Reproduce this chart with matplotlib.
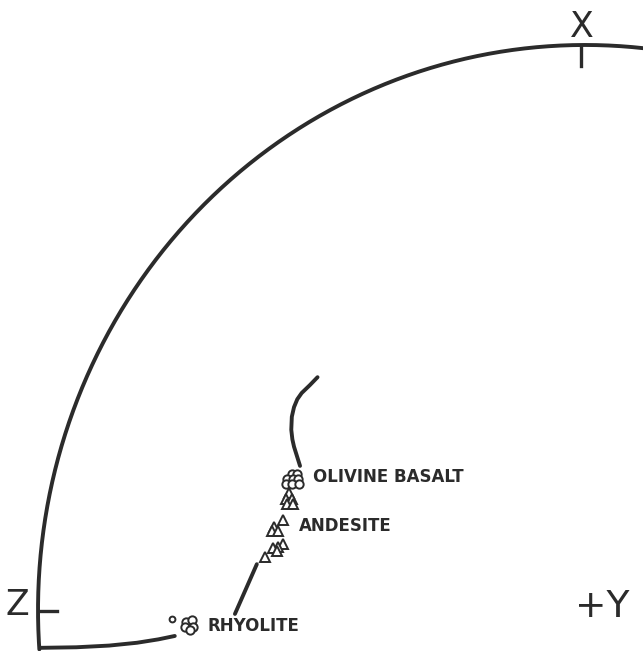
import numpy as np
from matplotlib import pyplot as plt

# diagram units: origin at the +Y point, radius of the X-Z arc = 100
# (horizontal: toward Z is negative, vertical: toward X is positive)

# trend line above the basalts
trend_upper_x = [-48.9, -50.3, -51.8, -52.6, -53.2, -53.6, -53.7, -53.5, -53.2, -52.1]
trend_upper_y = [41.2, 39.8, 38.4, 37.3, 35.9, 34.2, 31.9, 30.2, 28.9, 25.5]

# trend line below the andesites
trend_lower_x = [-60.0, -64.0]
trend_lower_y = [8.1, -0.7]

# olivine basalt: circles
basalt_circ_x = [-53.6, -52.6, -54.4, -53.4, -52.4, -54.7, -53.6, -52.3]
basalt_circ_y = [24.1, 24.1, 23.1, 23.1, 23.1, 22.3, 22.3, 22.3]
# olivine basalt: triangles
basalt_tri_x = [-54.1, -54.7, -53.6, -54.4, -53.3]
basalt_tri_y = [20.7, 19.6, 19.6, 18.8, 18.8]

# andesite: triangles
andesite_x = [-55.2, -56.9, -57.3, -56.1, -55.3, -56.1, -57.0, -56.4, -58.5]
andesite_y = [15.9, 14.7, 13.9, 13.9, 11.6, 11.2, 10.9, 10.4, 9.4]

# rhyolite: circles plus one small open circle
rhyolite_x = [-72.9, -71.9, -73.1, -71.6, -72.3]
rhyolite_y = [-2.1, -1.8, -3.1, -3.0, -3.5]
rhyolite_small_x = [-75.5]
rhyolite_small_y = [-1.6]

labels = ["OLIVINE BASALT", "ANDESITE", "RHYOLITE"]
label_x = [-49.7, -52.3, -69.1]
label_y = [23.5, 14.9, -2.9]

# short Z-Y trace at the bottom
base_x = [-99.6, -93.0, -87.0, -81.9, -78.0, -75.0]
base_y = [-6.7, -6.6, -6.3, -5.8, -5.2, -4.6]

ink = '#2b2b2b'

fig = plt.figure(figsize=(6.43, 6.51), dpi=100)
ax = fig.add_axes([0, 0, 1, 1])
ax.set_xlim(-106.95, 10.6)
ax.set_ylim(-7.26, 107.96)
ax.axis('off')

# outer X-Z arc
t = np.radians(np.linspace(83.5, 184.0, 400))
ax.plot(100*np.cos(t), 100*np.sin(t), color=ink, lw=2.8, solid_capstyle='round')
ax.plot(base_x, base_y, color=ink, lw=2.8, solid_capstyle='round', solid_joinstyle='round')

# axis ticks
ax.plot([-0.7, -0.7], [99.8, 96.3], color=ink, lw=2.4)
ax.plot([-99.6, -96.5], [-0.2, -0.2], color=ink, lw=2.4)

ax.text(-0.6, 103.2, 'X', fontsize=25, color=ink, ha='center', va='center')
ax.text(-103.8, 0.8, 'Z', fontsize=25, color=ink, ha='center', va='center')
ax.text(3.2, 0.6, '+Y', fontsize=27, color=ink, ha='center', va='center')

# trend lines
ax.plot(trend_upper_x, trend_upper_y, color=ink, lw=2.8,
        solid_capstyle='round', solid_joinstyle='round')
ax.plot(trend_lower_x, trend_lower_y, color=ink, lw=2.8, solid_capstyle='round')

mk = dict(linestyle='none', mfc='white', mec=ink, mew=1.4)
ax.plot(basalt_circ_x, basalt_circ_y, marker='o', ms=6.0, **mk)
ax.plot(basalt_tri_x, basalt_tri_y, marker='^', ms=6.5, **mk)
ax.plot(andesite_x, andesite_y, marker='^', ms=6.5, **mk)
ax.plot(rhyolite_x, rhyolite_y, marker='o', ms=6.0, **mk)
ax.plot(rhyolite_small_x, rhyolite_small_y, marker='o', ms=4.2, **mk)

for s, x, y in zip(labels, label_x, label_y):
    ax.text(x, y, s, fontsize=12, fontweight='bold', color=ink, ha='left', va='center')

fig.savefig('out.png', dpi=100, facecolor='white')
